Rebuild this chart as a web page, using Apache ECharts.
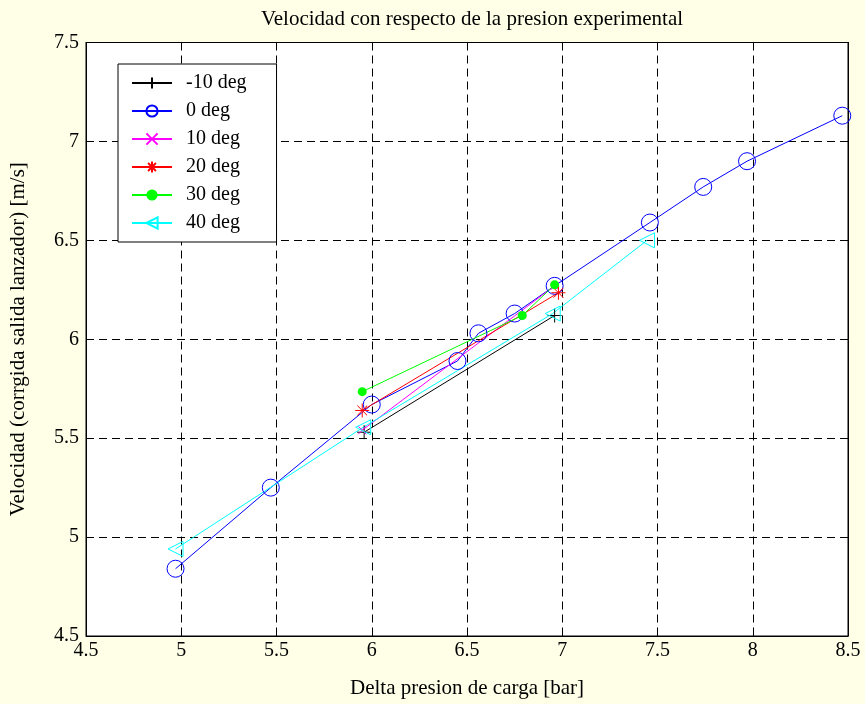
<!DOCTYPE html>
<html>
<head>
<meta charset="utf-8">
<script src="https://cdn.jsdelivr.net/npm/echarts@6/dist/echarts.min.js"></script>
<style>
html,body{margin:0;padding:0;background:#FFFFE8;}
#c{width:865px;height:704px;}
</style>
</head>
<body>
<div id="c"></div>
<script>
// Data
var xM10 = [5.96, 6.96];
var yM10 = [5.53, 6.12];
var x0 = [4.97, 5.47, 6.00, 6.45, 6.56, 6.75, 6.96, 7.46, 7.74, 7.97, 8.47];
var y0 = [4.84, 5.25, 5.67, 5.89, 6.03, 6.13, 6.27, 6.59, 6.77, 6.90, 7.13];
var x10 = [5.95, 6.96];
var y10 = [5.54, 6.27];
var x20 = [5.95, 6.98];
var y20 = [5.64, 6.235];
var x30 = [5.95, 6.79, 6.96];
var y30 = [5.735, 6.12, 6.275];
var x40 = [4.97, 5.955, 6.95, 7.445];
var y40 = [4.94, 5.555, 6.13, 6.50];
var xTicks = [4.5, 5, 5.5, 6, 6.5, 7, 7.5, 8, 8.5];
var yTicks = [4.5, 5, 5.5, 6, 6.5, 7, 7.5];
var names = ['-10 deg', '0 deg', '10 deg', '20 deg', '30 deg', '40 deg'];

function pts(xs, ys){ return xs.map(function(x,i){ return [x, ys[i]]; }); }

var FONT = '"Liberation Serif", "Times New Roman", serif';
var chart = echarts.init(document.getElementById('c'), null, {renderer:'canvas'});

function ser(name, data, color, symbol, size, filled){
  return {
    name: name, type: 'line', data: data,
    symbol: symbol, symbolSize: size, showAllSymbol: true,
    lineStyle: {color: color, width: 1},
    itemStyle: filled ? {color: color, borderColor: color, borderWidth: 0}
                      : {color: 'rgba(0,0,0,0)', borderColor: color, borderWidth: 1},
    emphasis: {disabled: true},
    animation: false, z: 3
  };
}

var axisCommon = {
  type: 'value',
  axisLine: {show: true, onZero: false, lineStyle: {color: '#000', width: 1}},
  axisTick: {show: true, inside: true, length: 7, lineStyle: {color: '#000'}},
  splitLine: {show: false}
};

var option = {
  backgroundColor: '#FFFFE8',
  animation: false,
  title: {
    text: 'Velocidad con respecto de la presion experimental',
    left: 467, top: 4, textAlign: 'center',
    textStyle: {fontFamily: FONT, fontSize: 21, fontWeight: 'normal', color: '#000'}
  },
  grid: {left: 86, right: 17, top: 42.5, bottom: 62, backgroundColor: '#fff', show: true, borderColor: '#000', borderWidth: 1},
  legend: {
    left: 118, top: 64, orient: 'vertical',
    padding: [9, 30, 9, 13],
    backgroundColor: '#fff', borderColor: '#000', borderWidth: 1,
    itemWidth: 40, itemHeight: 14, itemGap: 8,
    data: names,
    textStyle: {fontFamily: FONT, fontSize: 20, color: '#000', padding: [0, 0, 0, 9]}
  },
  xAxis: [
    Object.assign({}, axisCommon, {
      min: 4.5, max: 8.5, interval: 0.5, position: 'bottom',
      name: 'Delta presion de carga [bar]', nameLocation: 'middle', nameGap: 42,
      nameTextStyle: {fontFamily: FONT, fontSize: 21, color: '#000'},
      axisLabel: {fontFamily: FONT, fontSize: 20, color: '#000', margin: 5,
        formatter: function(v){ return String(v); }},
      splitLine: {show: true, lineStyle: {color: '#000', type: [8, 5], width: 1}}
    }),
    Object.assign({}, axisCommon, {
      min: 4.5, max: 8.5, interval: 0.5, position: 'top', axisLabel: {show: false}
    })
  ],
  yAxis: [
    Object.assign({}, axisCommon, {
      min: 4.5, max: 7.5, interval: 0.5, position: 'left',
      name: 'Velocidad (corrgida salida lanzador) [m/s]', nameLocation: 'middle', nameGap: 57,
      nameTextStyle: {fontFamily: FONT, fontSize: 21, color: '#000'},
      axisLabel: {fontFamily: FONT, fontSize: 20, color: '#000', margin: 7,
        formatter: function(v){ return String(v); }},
      splitLine: {show: true, lineStyle: {color: '#000', type: [8, 5], width: 1}}
    }),
    Object.assign({}, axisCommon, {
      min: 4.5, max: 7.5, interval: 0.5, position: 'right', axisLabel: {show: false}
    })
  ],
  series: [
    ser(names[0], pts(xM10, yM10), '#000000', 'path://M0,-1L0,1M-1,0L1,0', 14, false),
    ser(names[1], pts(x0, y0), '#0000FF', 'circle', 17, false),
    ser(names[2], pts(x10, y10), '#FF00FF', 'path://M-1,-1L1,1M-1,1L1,-1', 8, false),
    ser(names[3], pts(x20, y20), '#FF0000', 'path://M0,-1L0,1M-1,0L1,0M-0.7,-0.7L0.7,0.7M-0.7,0.7L0.7,-0.7', 14, false),
    ser(names[4], pts(x30, y30), '#00FF00', 'circle', 9, true),
    ser(names[5], pts(x40, y40), '#00FFFF', 'path://M-1,0L1,-1L1,1Z', 15, false)
  ]
};
chart.setOption(option);
</script>
</body>
</html>
